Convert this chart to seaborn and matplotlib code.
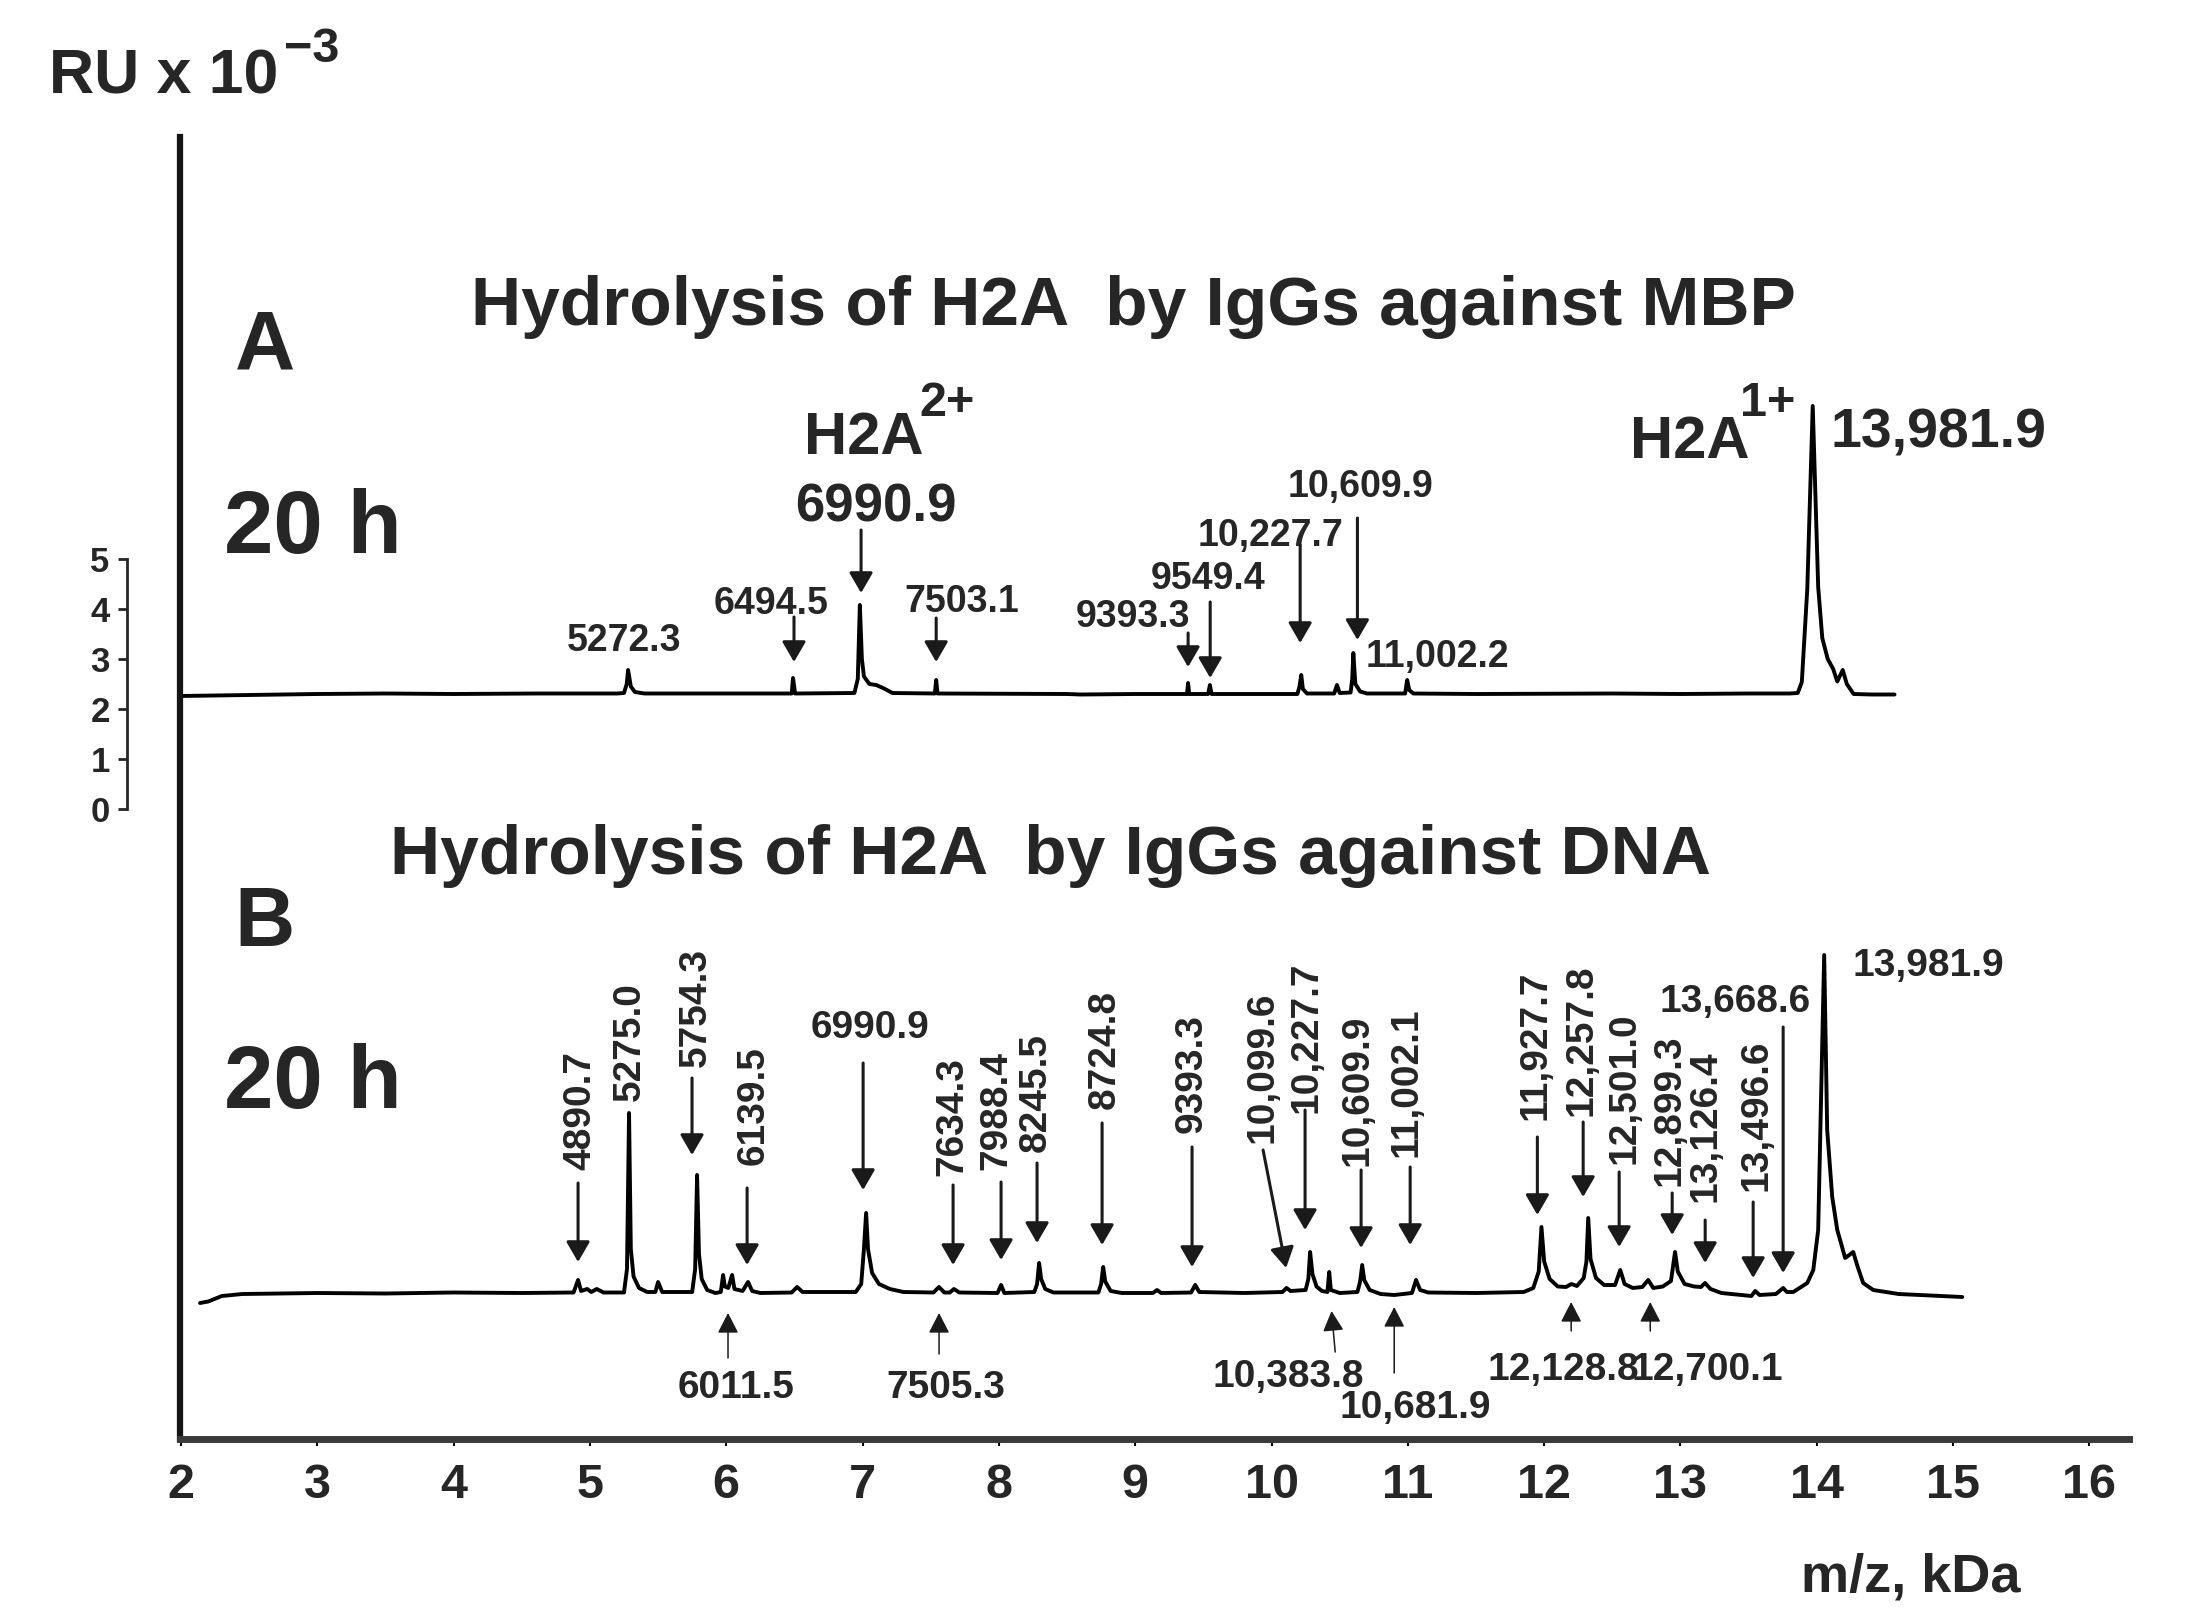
import matplotlib
matplotlib.use('Agg')
import matplotlib.pyplot as plt
import seaborn as sns

# Spectrum A: hydrolysis of H2A by IgGs against MBP (m/z in kDa, RU x 10^-3)
a_mz = [1.99, 2.5, 3.0, 3.5, 4.0, 4.6, 5.2,
        5.25, 5.27, 5.28, 5.30, 5.33, 5.4, 6.0,
        6.48, 6.49, 6.505,
        6.94, 6.965, 6.98, 6.995, 7.01, 7.05, 7.1, 7.15, 7.22,
        7.53, 7.54, 7.55, 8.5, 8.6, 9.0,
        9.38, 9.388, 9.396,
        9.535, 9.548, 9.56,
        10.19, 10.205, 10.218, 10.23, 10.26,
        10.46, 10.48, 10.50,
        10.58, 10.592, 10.60, 10.615, 10.65, 10.7,
        10.98, 10.995, 11.01, 11.04,
        11.5, 12.5, 13.0, 13.5, 13.8,
        13.86, 13.89, 13.93, 13.97, 14.01, 14.04, 14.08, 14.12, 14.15, 14.19, 14.22, 14.27,
        14.4, 14.57]
a_ru = [2.26, 2.28, 2.30, 2.31, 2.30, 2.31, 2.31,
        2.32, 2.5, 2.78, 2.45, 2.34, 2.31, 2.31,
        2.31, 2.62, 2.31,
        2.32, 2.6, 4.08, 3.0, 2.65, 2.5, 2.48, 2.42, 2.32,
        2.31, 2.58, 2.31, 2.30, 2.29, 2.30,
        2.30, 2.52, 2.30,
        2.30, 2.48, 2.30,
        2.30, 2.45, 2.68, 2.40, 2.31,
        2.31, 2.48, 2.32,
        2.33, 2.6, 3.12, 2.5, 2.35, 2.31,
        2.31, 2.58, 2.38, 2.31,
        2.30, 2.31, 2.30, 2.31, 2.31,
        2.32, 2.54, 4.4, 8.06, 4.44, 3.42, 3.0, 2.8, 2.55, 2.78, 2.5, 2.3,
        2.29, 2.29]

# Spectrum B: hydrolysis of H2A by IgGs against DNA (drawn shifted down)
b_mz = [2.14, 2.2, 2.3, 2.45, 3.0, 3.5, 4.0, 4.5, 4.88,
        4.913, 4.935, 4.98, 5.01, 5.05, 5.1,
        5.25, 5.272, 5.287, 5.30, 5.32, 5.36, 5.42,
        5.48, 5.50, 5.53,
        5.75, 5.772, 5.786, 5.80, 5.82, 5.86, 5.92,
        5.96, 5.977, 5.99, 6.015, 6.043, 6.06, 6.12,
        6.16, 6.19, 6.25,
        6.48, 6.52, 6.56,
        6.95, 6.99, 7.01, 7.026, 7.04, 7.07, 7.12, 7.2, 7.3,
        7.52, 7.56, 7.6,
        7.64, 7.67, 7.71,
        7.99, 8.016, 8.04,
        8.26, 8.28, 8.295, 8.31, 8.34, 8.4,
        8.73, 8.75, 8.765, 8.78, 8.82, 8.9,
        9.13, 9.16, 9.19,
        9.41, 9.44, 9.47,
        9.8, 10.08, 10.11, 10.14,
        10.25, 10.27, 10.283, 10.30, 10.33, 10.37,
        10.41, 10.423, 10.435, 10.5,
        10.63, 10.65, 10.665, 10.68, 10.72, 10.8, 10.9,
        11.03, 11.06, 11.09, 11.15,
        11.5, 11.85,
        11.92, 11.96, 11.98, 12.0, 12.04, 12.1,
        12.16, 12.2, 12.24,
        12.29, 12.31, 12.323, 12.34, 12.38, 12.44,
        12.52, 12.558, 12.59, 12.65,
        12.72, 12.763, 12.80, 12.87,
        12.93, 12.96, 12.98, 13.03, 13.1,
        13.15, 13.18, 13.22, 13.3, 13.45,
        13.52, 13.548, 13.58,
        13.70, 13.753, 13.78,
        13.827, 13.93, 13.974, 14.01, 14.054, 14.076, 14.113, 14.15, 14.208, 14.267, 14.30,
        14.34, 14.414, 14.6, 15.067]
b_ru = [0.12, 0.15, 0.26, 0.30, 0.32, 0.31, 0.33, 0.32, 0.33,
        0.58, 0.36, 0.40, 0.34, 0.40, 0.33,
        0.33, 0.8, 3.92, 1.2, 0.65, 0.42, 0.34,
        0.34, 0.54, 0.34,
        0.34, 0.8, 2.68, 1.1, 0.6, 0.38, 0.32,
        0.34, 0.68, 0.45, 0.42, 0.68, 0.40, 0.36,
        0.54, 0.36, 0.32,
        0.33, 0.44, 0.34,
        0.34, 0.5, 1.2, 1.92, 1.2, 0.72, 0.5, 0.4, 0.34,
        0.33, 0.44, 0.33,
        0.33, 0.40, 0.33,
        0.32, 0.48, 0.32,
        0.34, 0.5, 0.92, 0.6, 0.40, 0.33,
        0.33, 0.5, 0.84, 0.55, 0.36, 0.32,
        0.32, 0.38, 0.32,
        0.33, 0.48, 0.34,
        0.32, 0.34, 0.42, 0.36,
        0.38, 0.6, 1.14, 0.7, 0.45, 0.36,
        0.34, 0.74, 0.38, 0.32,
        0.34, 0.55, 0.88, 0.58, 0.38, 0.3, 0.28,
        0.32, 0.58, 0.38, 0.33,
        0.32, 0.34,
        0.42, 0.75, 1.64, 0.95, 0.6, 0.45,
        0.44, 0.5, 0.46,
        0.62, 0.95, 1.82, 1.0, 0.62, 0.48,
        0.48, 0.78, 0.5, 0.42,
        0.44, 0.58, 0.42, 0.45,
        0.56, 1.14, 0.75, 0.5, 0.45,
        0.44, 0.52, 0.4, 0.32, 0.28,
        0.26, 0.36, 0.28,
        0.30, 0.42, 0.34,
        0.34, 0.52, 0.78, 1.58, 7.08, 3.58, 2.24, 1.58, 1.02, 1.14, 0.84,
        0.52, 0.38, 0.3, 0.24]
b_shift = -10.0

x_ticks = list(range(2, 17))
scale_ticks = [0, 1, 2, 3, 4, 5]

# peak labels of A: text, x, y
a_labels = ['5272.3', '6494.5', '7503.1', '9393.3', '9549.4', '10,227.7', '10,609.9', '11,002.2']
a_label_x = [5.25, 6.33, 7.73, 8.985, 9.535, 9.99, 10.65, 11.215]
a_label_y = [3.44, 4.18, 4.22, 3.92, 4.68, 5.54, 6.52, 3.12]
# arrows of A: x, tail, tip
a_arrow_x = [6.497, 6.989, 7.54, 9.388, 9.55, 10.21, 10.63]
a_arrow_tail = [3.84, 5.58, 3.82, 3.52, 4.14, 5.28, 5.82]
a_arrow_tip = [2.94, 4.32, 2.94, 2.84, 2.62, 3.32, 3.38]

# rotated peak labels of B
b_vlabels = ['4890.7', '5275.0', '5754.3', '6139.5', '7634.3', '7988.4', '8245.5', '8724.8',
             '9393.3', '10,099.6', '10,227.7', '10,609.9', '11,002.1', '11,927.7', '12,257.8',
             '12,501.0', '12,899.3', '13,126.4', '13,496.6']
b_vlabel_x = [4.898, 5.265, 5.749, 6.175, 7.627, 7.95, 8.244, 8.75,
              9.388, 9.902, 10.225, 10.599, 10.958, 11.905, 12.242,
              12.558, 12.888, 13.152, 13.526]
b_vlabel_y = [-6.02, -4.66, -3.96, -5.94, -6.16, -6.02, -5.66, -4.8,
              -5.3, -5.16, -4.56, -5.62, -5.46, -4.72, -4.62,
              -5.58, -6.02, -6.34, -6.12]
# horizontal labels of B (above and below the trace)
b_hlabels = ['6990.9', '13,668.6', '6011.5', '7505.3', '10,383.8', '10,681.9', '12,128.8', '12,700.1']
b_hlabel_x = [7.055, 13.401, 6.072, 7.613, 10.122, 11.053, 12.139, 13.196]
b_hlabel_y = [-4.3, -3.78, -11.5, -11.5, -11.28, -11.9, -11.14, -11.14]
# down arrows of B: x of tail, x of tip, tail, tip
b_down_x0 = [4.913, 5.749, 6.153, 7.004, 7.664, 8.016, 8.28, 8.757, 9.417, 9.938,
             10.246, 10.657, 11.017, 11.95, 12.286, 12.55, 12.939, 13.181, 13.533, 13.753]
b_down_x1 = [4.913, 5.749, 6.153, 7.004, 7.664, 8.016, 8.28, 8.757, 9.417, 10.107,
             10.246, 10.657, 11.017, 11.95, 12.286, 12.55, 12.939, 13.181, 13.533, 13.753]
b_down_tail = [-7.48, -5.38, -7.58, -5.08, -7.52, -7.46, -7.08, -6.28, -6.76, -6.82,
               -6.02, -7.22, -7.16, -6.56, -6.26, -7.26, -7.68, -8.22, -7.86, -4.36]
b_down_tip = [-9.06, -6.92, -9.12, -7.62, -9.12, -9.02, -8.68, -8.72, -9.16, -9.18,
              -8.42, -8.78, -8.72, -8.12, -7.76, -8.76, -8.52, -9.08, -9.38, -9.28]
# up arrows of B (labels below the trace)
b_up_x0 = [6.013, 7.561, 10.467, 10.9, 12.198, 12.778]
b_up_x1 = [6.013, 7.561, 10.44, 10.9, 12.198, 12.778]
b_up_tail = [-10.98, -10.9, -10.86, -11.28, -10.44, -10.44]
b_up_tip = [-10.08, -10.08, -10.04, -9.96, -9.86, -9.86]

sns.set_style('white')
plt.rcParams['font.family'] = ['Liberation Sans', 'DejaVu Sans']
plt.rcParams['font.weight'] = 'bold'

fig = plt.figure(figsize=(22.08, 16.19), dpi=100)
ax_pos = [180 / 2208, 1 - 1439 / 1619, (2129 - 180) / 2208, (1439 - 137) / 1619]
ax = fig.add_axes(ax_pos)
ylim = (-12.6, 13.44)

sns.lineplot(x=a_mz, y=a_ru, ax=ax, color='black', lw=2.8, estimator=None, sort=False)
sns.lineplot(x=b_mz, y=[v + b_shift for v in b_ru], ax=ax, color='black', lw=2.8,
             estimator=None, sort=False)

ax.set_xlim(1.993, 16.29)
ax.set_ylim(*ylim)
ax.set_xticks(x_ticks)
ax.set_yticks([])
ax.set_xlabel('')
ax.set_ylabel('')
for s in ['top', 'right']:
    ax.spines[s].set_visible(False)
ax.spines['left'].set_linewidth(4.5)
ax.spines['left'].set_color('#151515')
ax.spines['bottom'].set_linewidth(5)
ax.spines['bottom'].set_color('#3a3a3a')
ax.tick_params(axis='x', direction='out', length=5, width=1.5, color='black',
               labelsize=35, pad=12, bottom=True)
ax.patch.set_visible(False)

# small intensity scale for spectrum A
ax2 = fig.add_axes([127 / 2208, ax_pos[1], 0.002, ax_pos[3]])
ax2.set_ylim(*ylim)
ax2.set_yticks(scale_ticks)
ax2.set_xticks([])
for s in ['top', 'right', 'bottom']:
    ax2.spines[s].set_visible(False)
ax2.spines['left'].set_bounds(0, 5)
ax2.spines['left'].set_linewidth(2)
ax2.tick_params(axis='y', direction='out', length=6.5, width=2, labelsize=25, pad=6, left=True)
ax2.patch.set_visible(False)

arrow_kw = dict(arrowstyle='-|>,head_length=0.62,head_width=0.36', mutation_scale=20,
                lw=2.2, color='#1a1a1a', shrinkA=0, shrinkB=0)
thin_kw = dict(arrowstyle='-|>,head_length=0.62,head_width=0.32', mutation_scale=20,
               lw=1.1, color='#1a1a1a', shrinkA=0, shrinkB=0)

# panel A texts
ax.text(8.985, 10.18, 'Hydrolysis of H2A  by IgGs against MBP', fontsize=50,
        ha='center', va='center_baseline')
ax.text(2.616, 9.40, 'A', fontsize=60, ha='center', va='center_baseline')
ax.text(2.968, 5.76, '20 h', fontsize=64, ha='center', va='center_baseline')
ax.text(7.011, 7.52, 'H2A', fontsize=43, ha='center', va='center_baseline')
ax.text(7.62, 8.20, '2+', fontsize=35, ha='center', va='center_baseline')
ax.text(7.099, 6.14, '6990.9', fontsize=38, ha='center', va='center_baseline')
ax.text(13.07, 7.44, 'H2A', fontsize=43, ha='center', va='center_baseline')
ax.text(13.643, 8.20, '1+', fontsize=35, ha='center', va='center_baseline')
ax.text(14.891, 7.62, '13,981.9', fontsize=40, ha='center', va='center_baseline')
for s, x, y in zip(a_labels, a_label_x, a_label_y):
    ax.text(x, y, s, fontsize=27, ha='center', va='center_baseline')
for x, t0, t1 in zip(a_arrow_x, a_arrow_tail, a_arrow_tip):
    ax.annotate('', xy=(x, t1), xytext=(x, t0), arrowprops=arrow_kw)

# panel B texts
ax.text(8.376, -0.80, 'Hydrolysis of H2A  by IgGs against DNA', fontsize=50,
        ha='center', va='center_baseline')
ax.text(2.616, -2.12, 'B', fontsize=60, ha='center', va='center_baseline')
ax.text(2.968, -5.32, '20 h', fontsize=64, ha='center', va='center_baseline')
ax.text(14.817, -3.06, '13,981.9', fontsize=28, ha='center', va='center_baseline')
for s, x, y in zip(b_vlabels, b_vlabel_x, b_vlabel_y):
    ax.text(x, y, s, fontsize=28, rotation=90, rotation_mode='anchor',
            ha='center', va='center_baseline')
for s, x, y in zip(b_hlabels, b_hlabel_x, b_hlabel_y):
    ax.text(x, y, s, fontsize=28, ha='center', va='center_baseline')
for x0, x1, t0, t1 in zip(b_down_x0, b_down_x1, b_down_tail, b_down_tip):
    ax.annotate('', xy=(x1, t1), xytext=(x0, t0), arrowprops=arrow_kw)
for x0, x1, t0, t1 in zip(b_up_x0, b_up_x1, b_up_tail, b_up_tip):
    ax.annotate('', xy=(x1, t1), xytext=(x0, t0), arrowprops=thin_kw)

# axis captions
fig.text(49 / 2208, 1 - 70 / 1619, 'RU x 10', fontsize=45, ha='left', va='center_baseline')
fig.text(284 / 2208, 1 - 44 / 1619, '\u22123', fontsize=35, ha='left', va='center_baseline')
fig.text(1911 / 2208, 1 - 1572 / 1619, 'm/z, kDa', fontsize=39, ha='center',
         va='center_baseline')

fig.savefig('out.png', dpi=100)
